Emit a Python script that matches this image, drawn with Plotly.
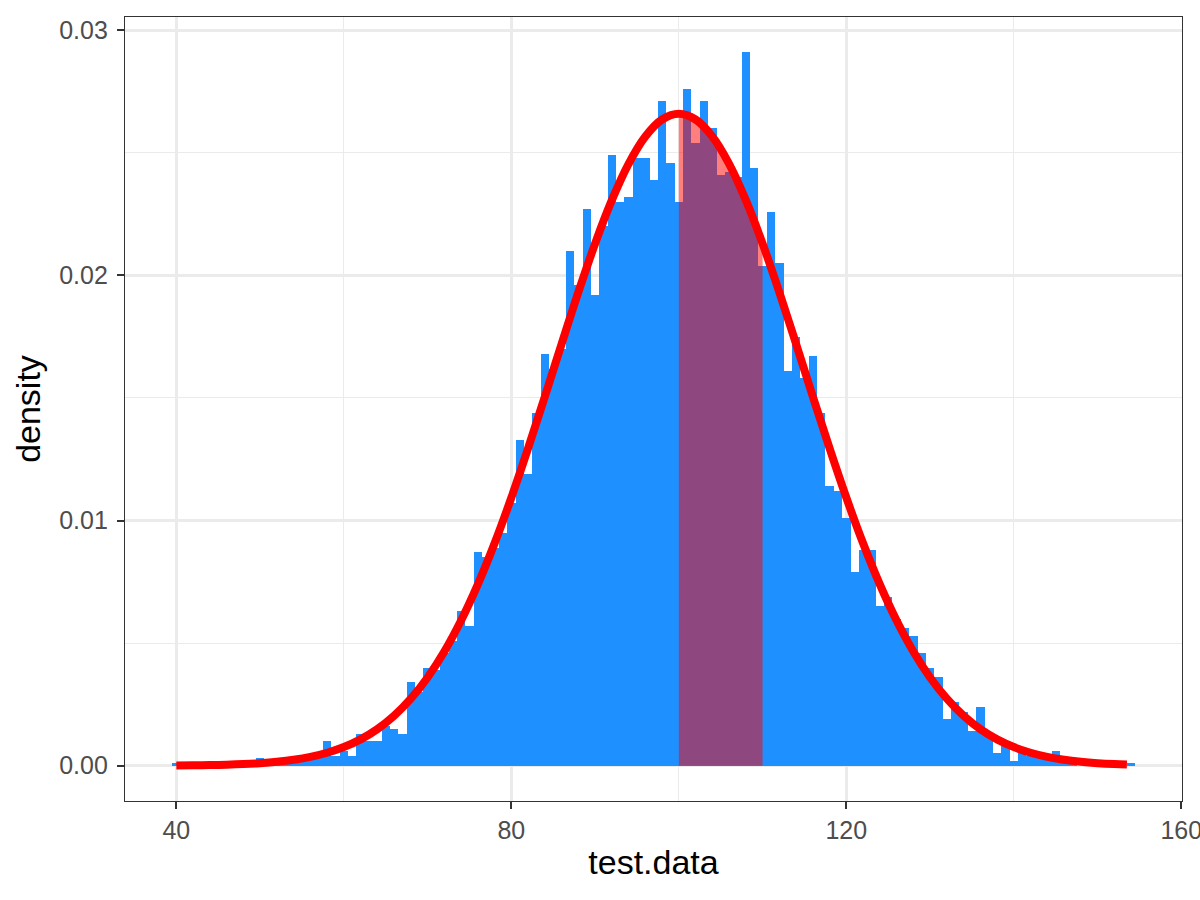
import plotly.graph_objects as go

# ---- data ----
bin_centers = [40, 41, 42, 43, 44, 45, 46, 47, 48, 49,
               50, 51, 52, 53, 54, 55, 56, 57, 58, 59,
               60, 61, 62, 63, 64, 65, 66, 67, 68, 69,
               70, 71, 72, 73, 74, 75, 76, 77, 78, 79,
               80, 81, 82, 83, 84, 85, 86, 87, 88, 89,
               90, 91, 92, 93, 94, 95, 96, 97, 98, 99,
               100, 101, 102, 103, 104, 105, 106, 107, 108, 109,
               110, 111, 112, 113, 114, 115, 116, 117, 118, 119,
               120, 121, 122, 123, 124, 125, 126, 127, 128, 129,
               130, 131, 132, 133, 134, 135, 136, 137, 138, 139,
               140, 141, 142, 143, 144, 145, 146, 147, 148, 149,
               150, 151, 152, 153, 154]

bin_density = [0.0001, 0.0, 0.0, 0.0, 0.0, 0.0001, 0.0, 0.0001, 0.0, 0.0001,
               0.0003, 0.0001, 0.0001, 0.0002, 0.0002, 0.0003, 0.0003, 0.0004, 0.0010, 0.0004,
               0.0006, 0.0004, 0.0013, 0.0010, 0.0010, 0.0016, 0.0015, 0.0013, 0.0034, 0.0030,
               0.0040, 0.0039, 0.0046, 0.0051, 0.0063, 0.0057, 0.0087, 0.0085, 0.0089, 0.0095,
               0.0107, 0.0133, 0.0119, 0.0144, 0.0168, 0.0162, 0.0170, 0.0210, 0.0196, 0.0227,
               0.0192, 0.0220, 0.0249, 0.0230, 0.0232, 0.0248, 0.0248, 0.0239, 0.0271, 0.0246,
               0.0230, 0.0276, 0.0254, 0.0271, 0.0260, 0.0241, 0.0242, 0.0240, 0.0291, 0.0244,
               0.0204, 0.0226, 0.0205, 0.0161, 0.0175, 0.0158, 0.0167, 0.0144, 0.0114, 0.0112,
               0.0101, 0.0079, 0.0088, 0.0088, 0.0065, 0.0069, 0.0060, 0.0056, 0.0053, 0.0046,
               0.0040, 0.0036, 0.0019, 0.0026, 0.0022, 0.0014, 0.0024, 0.0012, 0.0005, 0.0009,
               0.0002, 0.0005, 0.0004, 0.0003, 0.0003, 0.0006, 0.0001, 0.0001, 0.0, 0.0001,
               0.0, 0.0001, 0.0, 0.0, 0.0001]

curve_x = [40, 42, 44, 46, 48, 50, 52, 54, 56, 58,
           60, 62, 64, 66, 68, 70, 72, 74, 76, 78,
           80, 82, 84, 86, 88, 90, 92, 94, 96, 98,
           100, 102, 104, 106, 108, 110, 112, 114, 116, 118,
           120, 122, 124, 126, 128, 130, 132, 134, 136, 138,
           140, 142, 144, 146, 148, 150, 152, 153.5]

curve_y = [0.000009, 0.000015, 0.000025, 0.000041, 0.000065, 0.000103, 0.000159, 0.000241, 0.000360, 0.000528,
           0.000760, 0.001074, 0.001493, 0.002038, 0.002733, 0.003599, 0.004658, 0.005922, 0.007395, 0.009072,
           0.010934, 0.012946, 0.015057, 0.017206, 0.019313, 0.021297, 0.023070, 0.024552, 0.025667, 0.026361,
           0.026596, 0.026361, 0.025667, 0.024552, 0.023070, 0.021297, 0.019313, 0.017206, 0.015057, 0.012946,
           0.010934, 0.009072, 0.007395, 0.005922, 0.004658, 0.003599, 0.002733, 0.002038, 0.001493, 0.001074,
           0.000760, 0.000528, 0.000360, 0.000241, 0.000159, 0.000103, 0.000065, 0.000046]

shade_from, shade_to = 100, 110

x_ticks = [40, 80, 120, 160]
x_tick_labels = ["40", "80", "120", "160"]
x_minor = [60, 100, 140]
y_ticks = [0.0, 0.01, 0.02, 0.03]
y_tick_labels = ["0.00", "0.01", "0.02", "0.03"]
y_minor = [0.005, 0.015, 0.025]

# ---- figure ----
shade_x = [x for x in curve_x if shade_from <= x <= shade_to]
shade_y = [y for x, y in zip(curve_x, curve_y) if shade_from <= x <= shade_to]

fig = go.Figure()
fig.add_trace(go.Bar(x=bin_centers, y=bin_density, width=1,
                     marker=dict(color="#1E90FF", line=dict(width=0)),
                     showlegend=False, hoverinfo="skip"))
fig.add_trace(go.Scatter(x=shade_x, y=shade_y, mode="lines", fill="tozeroy",
                         fillcolor="rgba(255,0,0,0.5)",
                         line=dict(width=0, shape="spline"),
                         showlegend=False, hoverinfo="skip"))
fig.add_trace(go.Scatter(x=curve_x, y=curve_y, mode="lines",
                         line=dict(color="#FF0000", width=8, shape="spline"),
                         showlegend=False, hoverinfo="skip"))

font_family = "Liberation Sans, Arial, Helvetica, sans-serif"
grid_col = "#EBEBEB"

fig.update_layout(
    width=1200, height=900,
    paper_bgcolor="white", plot_bgcolor="white",
    margin=dict(l=125, r=18, t=17, b=99),
    bargap=0,
    font=dict(family=font_family, color="black"),
    xaxis=dict(
        range=[33.87, 160.08], tickvals=x_ticks, ticktext=x_tick_labels,
        automargin=False, ticklabeloverflow="allow",
        showgrid=True, gridcolor=grid_col, gridwidth=2.6,
        minor=dict(tickvals=x_minor, showgrid=True, gridcolor=grid_col, gridwidth=1.4, ticks=""),
        zeroline=False,
        showline=True, mirror=True, linecolor="#333333", linewidth=1.4,
        ticks="outside", ticklen=7, tickwidth=1.8, tickcolor="#333333",
        tickfont=dict(size=25, color="#4D4D4D", family=font_family),
        title=dict(text="test.data", font=dict(size=34, color="black", family=font_family), standoff=6),
    ),
    yaxis=dict(
        range=[-0.00144, 0.030542], tickvals=y_ticks, ticktext=y_tick_labels,
        automargin=False, ticklabeloverflow="allow", ticklabelstandoff=4,
        showgrid=True, gridcolor=grid_col, gridwidth=2.6,
        minor=dict(tickvals=y_minor, showgrid=True, gridcolor=grid_col, gridwidth=1.4, ticks=""),
        zeroline=False,
        showline=True, mirror=True, linecolor="#333333", linewidth=1.4,
        ticks="outside", ticklen=7, tickwidth=1.8, tickcolor="#333333",
        tickfont=dict(size=25, color="#4D4D4D", family=font_family),
        title=dict(text="density", font=dict(size=34, color="black", family=font_family), standoff=8),
    ),
)

fig.write_html("out.html", config={"displayModeBar": False},
               post_script="document.body.style.margin='0';")
